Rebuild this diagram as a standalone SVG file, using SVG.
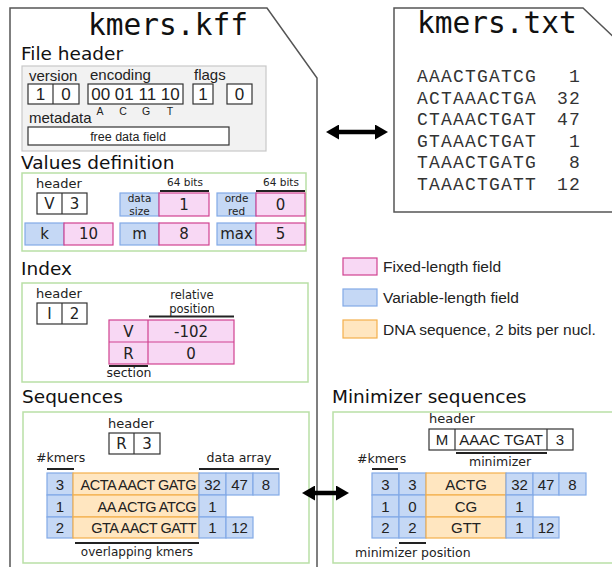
<svg xmlns="http://www.w3.org/2000/svg" width="612" height="567" viewBox="0 0 612 567">
<style>
.doc{fill:#fff;stroke:#555;stroke-width:1.5}
.gray{fill:#f2f2f2;stroke:#c8c8c8;stroke-width:1.2}
.green{fill:#fff;stroke:#b9dfa6;stroke-width:1.5}
.box{fill:#fff;stroke:#333;stroke-width:1.2}
.ln{stroke:#333;stroke-width:1.2}
.pk{fill:#f8d8f4;stroke:#d0418f;stroke-width:1.2}
.bl{fill:#c5d8f5;stroke:#82aae6;stroke-width:1.2}
.or{fill:#ffe6c0;stroke:#f4b04c;stroke-width:1.2}
.br{stroke:#222;stroke-width:2}
.title{font-family:"DejaVu Sans Mono",monospace;font-size:29.5px;fill:#111}
.sec{font-family:"DejaVu Sans",sans-serif;font-size:18.5px;fill:#111}
.dv{font-family:"DejaVu Sans",sans-serif;fill:#222}
.ar{font-family:"Liberation Sans",Arial,sans-serif;fill:#222}
.mono{font-family:"Liberation Mono","Courier New",monospace;font-size:18px;letter-spacing:1.2px;fill:#333}
.m{text-anchor:middle}
.e{text-anchor:end}
.s15{font-size:15px}
.s13{font-size:13px}
.s125{font-size:12.5px}
.seq{font-size:14.5px;letter-spacing:-0.5px}
</style>
<defs>
<marker id="ah" markerUnits="userSpaceOnUse" markerWidth="13" markerHeight="15" refX="1" refY="7.5" orient="auto-start-reverse"><path d="M0,0 L13,7.5 L0,15 Z" fill="#000"/></marker>
</defs>

<g id="kff-doc">
<path class="doc" d="M10,575 L10,8 L267,8 L317,78 L317,575"/>
<text class="title m" x="168" y="35">kmers.kff</text>
</g>

<g id="txt-doc">
<path class="doc" d="M394,212 L394,8 L583,8 L640,62 L640,212 Z"/>
<text class="title" x="417" y="33">kmers.txt</text>
<text class="mono" x="417" y="82">AAACTGATCG</text>
<text class="mono" x="417" y="103.5">ACTAAACTGA</text>
<text class="mono" x="417" y="125">CTAAACTGAT</text>
<text class="mono" x="417" y="146.5">GTAAACTGAT</text>
<text class="mono" x="417" y="168">TAAACTGATG</text>
<text class="mono" x="417" y="189.5">TAAACTGATT</text>
<text class="mono e" x="581" y="82">1</text>
<text class="mono e" x="581" y="103.5">32</text>
<text class="mono e" x="581" y="125">47</text>
<text class="mono e" x="581" y="146.5">1</text>
<text class="mono e" x="581" y="168">8</text>
<text class="mono e" x="581" y="189.5">12</text>
</g>

<g id="file-header">
<text class="sec" x="21" y="60">File header</text>
<rect class="gray" x="22" y="66" width="244" height="85"/>
<text class="ar s15" x="29" y="81">version</text>
<text class="ar s15" x="90" y="80">encoding</text>
<text class="ar s15" x="194" y="80">flags</text>
<rect class="box" x="28" y="84" width="51" height="20"/>
<line class="ln" x1="53" y1="84" x2="53" y2="104"/>
<text class="ar m" font-size="17" x="40.5" y="100">1</text>
<text class="ar m" font-size="17" x="66" y="100">0</text>
<rect class="box" x="88" y="84" width="95" height="20"/>
<text class="ar m" font-size="17" x="135.5" y="100">00 01 11 10</text>
<rect class="box" x="193" y="84" width="20" height="20"/>
<text class="ar m" font-size="17" x="203" y="100">1</text>
<rect class="box" x="227" y="84" width="25" height="20"/>
<text class="ar m" font-size="17" x="239.5" y="100">0</text>
<text class="ar m" font-size="10.5" fill="#555" x="100" y="115">A</text>
<text class="ar m" font-size="10.5" fill="#555" x="123" y="115">C</text>
<text class="ar m" font-size="10.5" fill="#555" x="146" y="115">G</text>
<text class="ar m" font-size="10.5" fill="#555" x="170" y="115">T</text>
<text class="ar s15" x="29" y="123">metadata</text>
<rect class="box" x="28" y="127" width="201" height="18"/>
<text class="ar m s125" x="128" y="141">free data field</text>
</g>

<g id="values-definition">
<text class="sec" x="21" y="169">Values definition</text>
<rect class="green" x="22" y="173" width="284" height="78"/>
<text class="dv s13" x="36" y="188">header</text>
<rect class="box" x="37" y="193" width="50" height="21"/>
<line class="ln" x1="62" y1="193" x2="62" y2="214"/>
<text class="dv m s15" x="49.5" y="209">V</text>
<text class="dv m s15" x="74.5" y="209">3</text>
<text class="dv m" font-size="10.5" x="185" y="186">64 bits</text>
<line class="br" x1="160" y1="191" x2="209" y2="191"/>
<text class="dv m" font-size="10.5" x="281" y="186">64 bits</text>
<line class="br" x1="256" y1="191" x2="305" y2="191"/>
<rect class="bl" x="120" y="193" width="39" height="23"/>
<text class="dv m" font-size="10.5" x="139.5" y="202.3"><tspan x="139.5">data</tspan><tspan x="139.5" dy="12.4">size</tspan></text>
<rect class="pk" x="159" y="193" width="50" height="23"/>
<text class="dv m s15" x="184" y="210">1</text>
<rect class="bl" x="217" y="193" width="39" height="23"/>
<text class="dv m" font-size="10.5" x="236.5" y="202.3"><tspan x="236.5">orde</tspan><tspan x="236.5" dy="12.4">red</tspan></text>
<rect class="pk" x="256" y="193" width="49" height="23"/>
<text class="dv m s15" x="280.5" y="210">0</text>
<rect class="bl" x="25" y="223" width="39" height="22"/>
<text class="dv m s15" x="44.5" y="239">k</text>
<rect class="pk" x="64" y="223" width="49" height="22"/>
<text class="dv m s15" x="88.5" y="239">10</text>
<rect class="bl" x="120" y="223" width="39" height="22"/>
<text class="dv m s15" x="139.5" y="239">m</text>
<rect class="pk" x="159" y="223" width="50" height="22"/>
<text class="dv m s15" x="184" y="239">8</text>
<rect class="bl" x="217" y="223" width="39" height="22"/>
<text class="dv m s15" x="236.5" y="239">max</text>
<rect class="pk" x="256" y="223" width="49" height="22"/>
<text class="dv m s15" x="280.5" y="239">5</text>
</g>

<g id="index">
<text class="sec" x="21" y="275">Index</text>
<rect class="green" x="22" y="283" width="286" height="99"/>
<text class="dv s13" x="36" y="298">header</text>
<rect class="box" x="37" y="303" width="50" height="21"/>
<line class="ln" x1="62" y1="303" x2="62" y2="324"/>
<text class="dv m s15" x="49.5" y="319">I</text>
<text class="dv m s15" x="74.5" y="319">2</text>
<text class="dv m" font-size="11.5" x="192" y="299"><tspan x="192">relative</tspan><tspan x="192" dy="13.6">position</tspan></text>
<line class="br" x1="149" y1="316.5" x2="234" y2="316.5"/>
<rect class="pk" x="109" y="320" width="125" height="44"/>
<line stroke="#d0418f" stroke-width="1.2" x1="109" y1="342" x2="234" y2="342"/>
<line stroke="#d0418f" stroke-width="1.2" x1="148" y1="320" x2="148" y2="364"/>
<text class="dv m s15" x="128.5" y="337">V</text>
<text class="dv m s15" x="191" y="337">-102</text>
<text class="dv m s15" x="128.5" y="359">R</text>
<text class="dv m s15" x="191" y="359">0</text>
<line class="br" x1="109" y1="366" x2="148" y2="366"/>
<text class="dv m s125" x="129" y="377">section</text>
</g>

<g id="sequences">
<text class="sec" x="22" y="403">Sequences</text>
<rect class="green" x="23" y="412" width="286" height="151"/>
<text class="dv m s13" x="131" y="428">header</text>
<rect class="box" x="109" y="433" width="51" height="21"/>
<line class="ln" x1="134" y1="433" x2="134" y2="454"/>
<text class="dv m s15" x="121.5" y="449">R</text>
<text class="dv m s15" x="147" y="449">3</text>
<text class="dv s125" x="36" y="462">#kmers</text>
<line class="br" x1="47" y1="469" x2="74" y2="469"/>
<text class="dv m s125" x="239" y="462">data array</text>
<line class="br" x1="199" y1="469" x2="279" y2="469"/>
<rect class="bl" x="47" y="473" width="26" height="22"/>
<rect class="bl" x="47" y="495" width="26" height="22"/>
<rect class="bl" x="47" y="517" width="26" height="21"/>
<rect class="or" x="73" y="473" width="126" height="22"/>
<rect class="or" x="73" y="495" width="126" height="22"/>
<rect class="or" x="73" y="517" width="126" height="21"/>
<rect class="bl" x="199" y="473" width="27" height="22"/>
<rect class="bl" x="226" y="473" width="27" height="22"/>
<rect class="bl" x="253" y="473" width="26" height="22"/>
<rect class="bl" x="199" y="495" width="27" height="22"/>
<rect class="bl" x="199" y="517" width="27" height="21"/>
<rect class="bl" x="226" y="517" width="27" height="21"/>
<text class="ar m s15" x="60" y="490">3</text>
<text class="ar m s15" x="60" y="512">1</text>
<text class="ar m s15" x="60" y="533">2</text>
<text class="ar e seq" x="196" y="490">ACTA AACT GATG</text>
<text class="ar e seq" x="196" y="512">AA ACTG ATCG</text>
<text class="ar e seq" x="196" y="533">GTA AACT GATT</text>
<text class="ar m s15" x="212.5" y="490">32</text>
<text class="ar m s15" x="239.5" y="490">47</text>
<text class="ar m s15" x="266" y="490">8</text>
<text class="ar m s15" x="212.5" y="512">1</text>
<text class="ar m s15" x="212.5" y="533">1</text>
<text class="ar m s15" x="239.5" y="533">12</text>
<line class="br" x1="75" y1="543" x2="199" y2="543"/>
<text class="dv m" font-size="12" x="137" y="556">overlapping kmers</text>
</g>

<g id="minimizer-sequences">
<text class="sec" x="332" y="403">Minimizer sequences</text>
<rect class="green" x="333" y="412" width="300" height="151"/>
<text class="dv s13" x="429" y="423">header</text>
<rect class="box" x="429" y="429" width="144" height="21"/>
<line class="ln" x1="455" y1="429" x2="455" y2="450"/>
<line class="ln" x1="547" y1="429" x2="547" y2="450"/>
<text class="ar m s15" x="442" y="445">M</text>
<text class="ar m s15" x="501" y="445">AAAC TGAT</text>
<text class="ar m s15" x="560" y="445">3</text>
<line class="br" x1="456" y1="453" x2="547" y2="453"/>
<text class="dv m s125" x="500" y="466">minimizer</text>
<text class="dv s125" x="357" y="463">#kmers</text>
<line class="br" x1="372" y1="469" x2="398" y2="469"/>
<rect class="bl" x="372" y="473" width="27" height="22"/>
<rect class="bl" x="372" y="495" width="27" height="22"/>
<rect class="bl" x="372" y="517" width="27" height="21"/>
<rect class="bl" x="399" y="473" width="27" height="22"/>
<rect class="bl" x="399" y="495" width="27" height="22"/>
<rect class="bl" x="399" y="517" width="27" height="21"/>
<rect class="or" x="426" y="473" width="80" height="22"/>
<rect class="or" x="426" y="495" width="80" height="22"/>
<rect class="or" x="426" y="517" width="80" height="21"/>
<rect class="bl" x="506" y="473" width="27" height="22"/>
<rect class="bl" x="533" y="473" width="26" height="22"/>
<rect class="bl" x="559" y="473" width="27" height="22"/>
<rect class="bl" x="506" y="495" width="27" height="22"/>
<rect class="bl" x="506" y="517" width="27" height="21"/>
<rect class="bl" x="533" y="517" width="26" height="21"/>
<text class="ar m s15" x="385.5" y="490">3</text>
<text class="ar m s15" x="412.5" y="490">3</text>
<text class="ar m s15" x="466" y="490">ACTG</text>
<text class="ar m s15" x="519.5" y="490">32</text>
<text class="ar m s15" x="546" y="490">47</text>
<text class="ar m s15" x="572.5" y="490">8</text>
<text class="ar m s15" x="385.5" y="512">1</text>
<text class="ar m s15" x="412.5" y="512">0</text>
<text class="ar m s15" x="466" y="512">CG</text>
<text class="ar m s15" x="519.5" y="512">1</text>
<text class="ar m s15" x="385.5" y="533">2</text>
<text class="ar m s15" x="412.5" y="533">2</text>
<text class="ar m s15" x="466" y="533">GTT</text>
<text class="ar m s15" x="519.5" y="533">1</text>
<text class="ar m s15" x="546" y="533">12</text>
<line class="br" x1="399" y1="543" x2="426" y2="543"/>
<text class="dv s125" x="355" y="557">minimizer position</text>
</g>

<g id="legend">
<rect class="pk" x="343" y="258" width="34" height="17"/>
<text class="ar" font-size="15.5" x="383" y="272">Fixed-length field</text>
<rect class="bl" x="343" y="289" width="34" height="17"/>
<text class="ar" font-size="15.5" x="383" y="303">Variable-length field</text>
<rect class="or" x="343" y="320" width="34" height="18"/>
<text class="ar" font-size="15.5" x="383" y="335">DNA sequence, 2 bits per nucl.</text>
</g>

<g id="connectors">
<line x1="338" y1="132" x2="376" y2="132" stroke="#000" stroke-width="4.5" marker-start="url(#ah)" marker-end="url(#ah)"/>
<line x1="314" y1="493" x2="337" y2="493" stroke="#000" stroke-width="4.5" marker-start="url(#ah)" marker-end="url(#ah)"/>
</g>
</svg>
